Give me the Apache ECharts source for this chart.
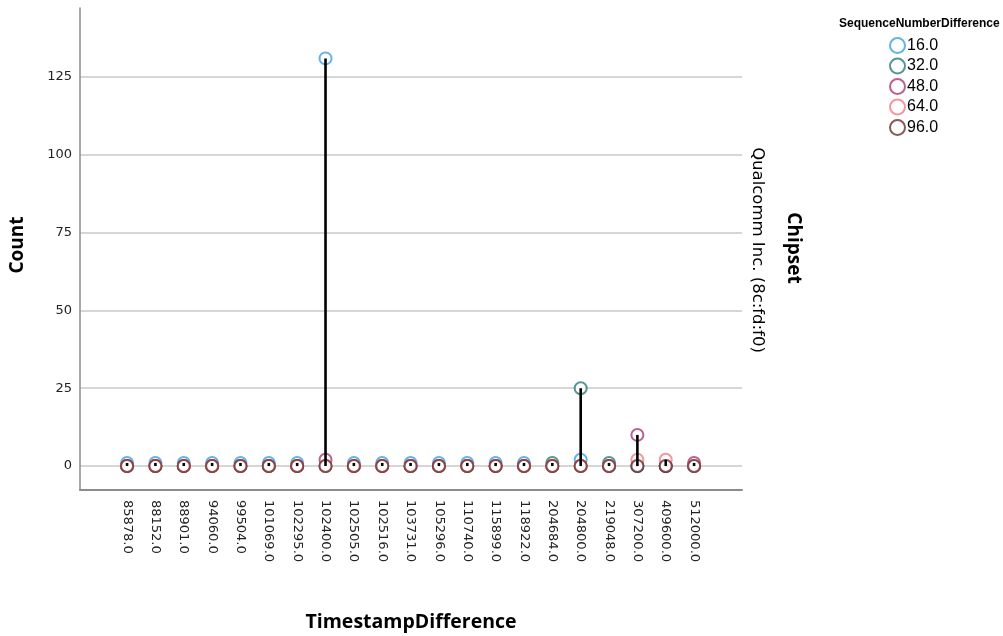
<!DOCTYPE html>
<html>
<head>
<meta charset="utf-8">
<script src="https://cdn.jsdelivr.net/npm/echarts@6/dist/echarts.min.js"></script>
<style>html,body{margin:0;padding:0;background:#fff}#c{width:1003px;height:636px}</style>
</head>
<body>
<div id="c"></div>
<script>
const categories = ['85878.0','88152.0','88901.0','94060.0','99504.0','101069.0','102295.0','102400.0','102505.0','102516.0','103731.0','105296.0','110740.0','115899.0','118922.0','204684.0','204800.0','219048.0','307200.0','409600.0','512000.0'];
const seriesNames = ['16.0','32.0','48.0','64.0','96.0'];
const s16 = [1,1,1,1,1,1,1,131,1,1,1,1,1,1,1,0,2,0,0,0,0];
const s32 = [0,0,0,0,0,0,0,0,0,0,0,0,0,0,0,1,25,1,0,0,0];
const s48 = [0,0,0,0,0,0,0,2,0,0,0,0,0,0,0,0,0,0,10,0,1];
const s64 = [0,0,0,0,0,0,0,0,0,0,0,0,0,0,0,0,0,0,2,2,0];
const s96 = [0,0,0,0,0,0,0,0,0,0,0,0,0,0,0,0,0,0,0,0,0];
const yTicks = [0,25,50,75,100,125];
const colors = ['#3f9fe0','#2b7d74','#a83a75','#f47a85','#6e2e2e'];

const allSeries = [s16,s32,s48,s64,s96];
const dropData = categories.map((c,i)=>{
  const vals = allSeries.map(s=>s[i]);
  return [i, Math.min(...vals), Math.max(...vals)];
});

const chart = echarts.init(document.getElementById('c'), null, {renderer:'canvas'});
const scatterSeries = allSeries.map((s,k)=>({
  name: seriesNames[k],
  type: 'scatter',
  data: s.map((v,i)=>[i,v]),
  symbol: 'emptyCircle',
  symbolSize: 12,
  itemStyle: {color: colors[k], borderColor: colors[k], borderWidth: 1.8},
  z: 2 + k,
  silent: true
}));

chart.setOption({
  animation: false,
  backgroundColor: '#fff',
  textStyle: {fontFamily: 'DejaVu Sans'},
  title: {
    text: 'SequenceNumberDifference',
    left: 834, top: 13,
    textStyle: {fontSize: 12, fontWeight: 'bold', color: '#000', fontFamily: 'Liberation Sans'}
  },
  legend: {
    orient: 'vertical',
    left: 884, top: 32,
    itemWidth: 15, itemHeight: 15, itemGap: 3.5,
    icon: 'emptyCircle',
    data: seriesNames,
    textStyle: {fontSize: 16, color: '#000', fontFamily: 'Liberation Sans', padding: [0,0,0,-3]},
    itemStyle: {borderWidth: 1.5}
  },
  grid: {left: 80, right: 261, top: 8, bottom: 146, containLabel: false},
  xAxis: {
    type: 'value',
    min: -1.66, max: 21.69,
    axisLine: {show: true, onZero: false, lineStyle: {color: '#8c8c8c', width: 2}},
    axisTick: {show: false, customValues: categories.map((c,i)=>i)},
    splitLine: {show: false},
    axisLabel: {
      customValues: categories.map((c,i)=>i),
      formatter: v => categories[Math.round(v)] || '',
      rotate: -90, fontSize: 13, color: '#222', margin: 10, fontFamily: 'DejaVu Sans'
    }
  },
  yAxis: {
    type: 'value',
    min: -7.7, max: 147.2,
    axisLine: {show: true, onZero: false, lineStyle: {color: '#8c8c8c', width: 1.5}},
    axisTick: {show: false, customValues: yTicks},
    splitLine: {show: true, lineStyle: {color: '#c8c8c8', width: 1.5}},
    axisLabel: {customValues: yTicks, fontSize: 13, color: '#222', margin: 8, fontFamily: 'DejaVu Sans'}
  },
  graphic: [
    {type: 'text', x: 18, y: 245, rotation: Math.PI/2,
     style: {text: 'Count', fontSize: 19, fontWeight: 'bold', fontFamily: 'Open Sans', fill: '#000', align: 'center', verticalAlign: 'middle'}},
    {type: 'text', x: 411, y: 622,
     style: {text: 'TimestampDifference', fontSize: 19.5, fontWeight: 'bold', fontFamily: 'Open Sans', fill: '#000', align: 'center', verticalAlign: 'middle'}},
    {type: 'text', x: 793, y: 248, rotation: -Math.PI/2,
     style: {text: 'Chipset', fontSize: 19, fontWeight: 'bold', fontFamily: 'Open Sans', fill: '#000', align: 'center', verticalAlign: 'middle'}},
    {type: 'text', x: 757, y: 250, rotation: -Math.PI/2,
     style: {text: 'Qualcomm Inc. (8c:fd:f0)', fontSize: 16.5, fontFamily: 'DejaVu Sans', fill: '#000', align: 'center', verticalAlign: 'middle'}}
  ],
  series: scatterSeries.concat([{
    type: 'custom',
    data: dropData,
    z: 10,
    silent: true,
    renderItem: (params, api) => {
      const lo = api.value(1), hi = api.value(2);
      if (hi <= lo) return null;
      const p1 = api.coord([api.value(0), lo]);
      const p2 = api.coord([api.value(0), hi]);
      return {type: 'line', shape: {x1: p1[0], y1: p1[1], x2: p2[0], y2: p2[1]},
              style: {stroke: '#000', lineWidth: 2.6}};
    }
  }])
});
</script>
</body>
</html>
